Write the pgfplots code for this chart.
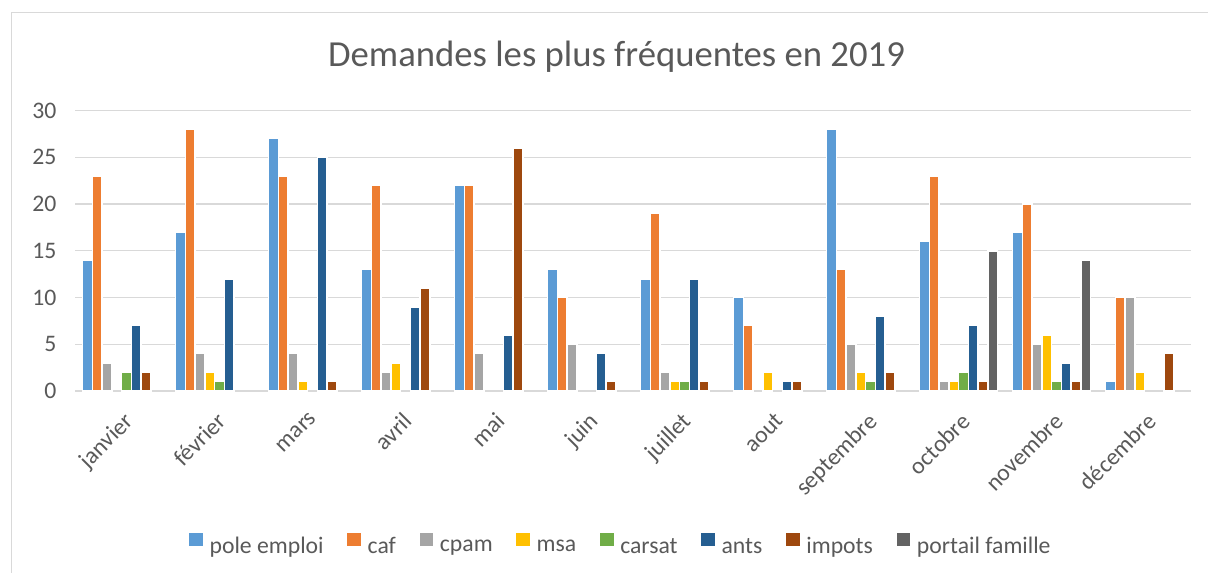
\documentclass[border=0pt]{standalone}
\usepackage{fontspec}
\setmainfont{Carlito}
\usepackage{pgfplots}
\pgfplotsset{compat=1.18}
\definecolor{cPE}{HTML}{5B9BD5}
\definecolor{cCAF}{HTML}{ED7D31}
\definecolor{cCPAM}{HTML}{A5A5A5}
\definecolor{cMSA}{HTML}{FFC000}
\definecolor{cCARSAT}{HTML}{70AD47}
\definecolor{cANTS}{HTML}{255E91}
\definecolor{cIMP}{HTML}{9E480E}
\definecolor{cPF}{HTML}{636363}
\definecolor{gridc}{HTML}{D9D9D9}
\definecolor{textc}{HTML}{595959}
\begin{document}
\begin{tikzpicture}[x=1pt,y=1pt]
\useasboundingbox (0,0) rectangle (1208,-573);
\draw[gridc, line width=1.3pt] (11.3,-590) -- (11.3,-12.3) -- (1230,-12.3);
\node[anchor=base, font=\fontsize{36.7}{44}\selectfont, text=textc, inner sep=0pt] at (616.5,-66) {Demandes les plus fréquentes en 2019};
\begin{axis}[
  at={(75pt,-391pt)}, anchor=south west,
  scale only axis, width=1116pt, height=280.5pt,
  xmin=-0.5, xmax=11.5, ymin=0, ymax=30,
  ybar=0pt, bar width=9.75pt,
  xtick={0,...,11},
  xticklabels={janvier,février,mars,avril,mai,juin,juillet,aout,septembre,octobre,novembre,décembre},
  ytick={0,5,...,30},
  ymajorgrids, grid style={line width=1.3pt, color=gridc},
  axis x line*=bottom, axis y line*=left,
  y axis line style={draw=none},
  x axis line style={line width=1.5pt, color=gridc},
  major tick length=0pt,
  /pgf/number format/assume math mode=true,
  tick label style={font=\fontsize{23.7}{28}\selectfont, text=textc},
  yticklabel style={anchor=east, xshift=-15pt},
  xticklabel style={rotate=45, anchor=north east, inner sep=2pt, yshift=-13.3pt, xshift=-11.2pt},
  clip=false,
  every axis plot/.append style={draw=white, line width=1.5pt},
  legend columns=8,
  legend style={at={(0.4883,-0.546)}, anchor=center, draw=none, fill=none,
    font=\fontsize{23.7}{28}\selectfont, text=textc,
    nodes={inner sep=0pt},
    /tikz/every odd column/.append style={column sep=6.6pt},
    /tikz/every even column/.append style={column sep=23.7pt}},
  legend image code/.code={\path[#1, draw=none] (0pt,0pt) rectangle (13.7pt,13.3pt);},
]
\addplot[fill=cPE] coordinates {(0,14)(1,17)(2,27)(3,13)(4,22)(5,13)(6,12)(7,10)(8,28)(9,16)(10,17)(11,1)};
\addplot[fill=cCAF] coordinates {(0,23)(1,28)(2,23)(3,22)(4,22)(5,10)(6,19)(7,7)(8,13)(9,23)(10,20)(11,10)};
\addplot[fill=cCPAM] coordinates {(0,3)(1,4)(2,4)(3,2)(4,4)(5,5)(6,2)(8,5)(9,1)(10,5)(11,10)};
\addplot[fill=cMSA] coordinates {(1,2)(2,1)(3,3)(6,1)(7,2)(8,2)(9,1)(10,6)(11,2)};
\addplot[fill=cCARSAT] coordinates {(0,2)(1,1)(6,1)(8,1)(9,2)(10,1)};
\addplot[fill=cANTS] coordinates {(0,7)(1,12)(2,25)(3,9)(4,6)(5,4)(6,12)(7,1)(8,8)(9,7)(10,3)};
\addplot[fill=cIMP] coordinates {(0,2)(2,1)(3,11)(4,26)(5,1)(6,1)(7,1)(8,2)(9,1)(10,1)(11,4)};
\addplot[fill=cPF] coordinates {(9,15)(10,14)};
\legend{pole emploi,caf,cpam,msa,carsat,ants,impots,portail famille}
\end{axis}
\end{tikzpicture}
\end{document}
